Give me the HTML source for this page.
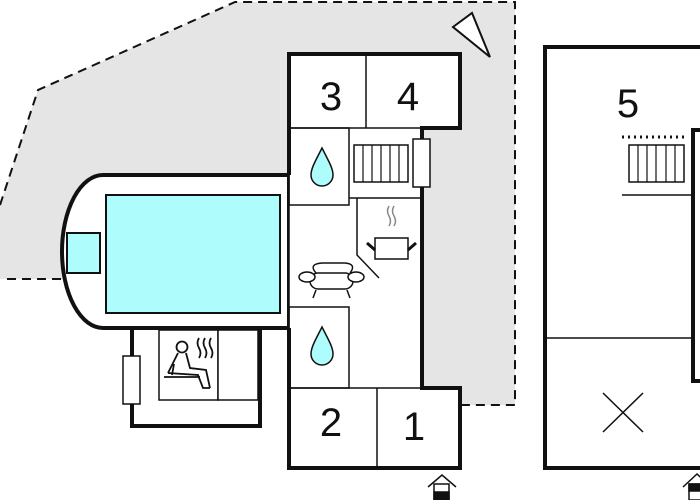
<!DOCTYPE html>
<html><head><meta charset="utf-8"><style>
html,body{margin:0;padding:0;background:#fff;width:700px;height:500px;overflow:hidden}
text{font-family:"Liberation Sans",sans-serif;font-size:40px;fill:#111}
</style></head><body>
<svg width="700" height="500" viewBox="0 0 700 500" xmlns="http://www.w3.org/2000/svg">
<polygon points="235,2 515,2 515,405 290,405 290,279 0,279 0,205 38,90" fill="#e5e5e5"/>
<polyline points="0,205 38,90 235,2 515,2 515,405 460,405" fill="none" stroke="#111" stroke-width="2" stroke-dasharray="9,6"/>
<line x1="7" y1="279" x2="62" y2="279" stroke="#111" stroke-width="2" stroke-dasharray="9,6"/>
<polygon points="453,27 472,13 490,57" fill="#fff" stroke="#111" stroke-width="2"/>

<path d="M289,175 L103,175 A41,76.5 0 0 0 103,328 L289,328 Z" fill="#fff" stroke="#111" stroke-width="4"/>
<rect x="106" y="195" width="174" height="118" fill="#aefcfc" stroke="#111" stroke-width="2"/>
<rect x="67" y="233" width="33" height="40" fill="#aefcfc" stroke="#111" stroke-width="2"/>

<rect x="132" y="328" width="128" height="98" fill="#fff" stroke="#111" stroke-width="4"/>
<rect x="159" y="330" width="59" height="70" fill="#fff" stroke="#111" stroke-width="1.5"/>
<rect x="218" y="330" width="40" height="70" fill="#fff" stroke="#111" stroke-width="1.5"/>
<rect x="123" y="356" width="17" height="48" fill="#fff" stroke="#111" stroke-width="1.5"/>
<g fill="none" stroke="#111" stroke-width="1.8">
<circle cx="182" cy="347" r="5.5"/>
<path d="M178,353 L168,373 M186,353 L190,368 L206,370 L210,388 M168,373 L198,375 L203,388 L210,388 M174,364 L172,375 M164,377 L200,377"/>
<path d="M199,338 q-3,5 0,10 t0,10 M205,338 q-3,5 0,10 t0,10 M211,338 q-3,5 0,10 t0,10"/>
</g>

<rect x="289" y="128" width="133" height="260" fill="#fff" stroke="none"/>
<path d="M289,175 L289,54 L460,54 L460,128 L422,128 L422,388 L460,388 L460,468 L289,468 L289,328" fill="#fff" stroke="#111" stroke-width="4"/>
<line x1="289" y1="175" x2="289" y2="328" stroke="#111" stroke-width="1.5"/>
<line x1="366" y1="54" x2="366" y2="128" stroke="#111" stroke-width="1.5"/>
<line x1="289" y1="128" x2="422" y2="128" stroke="#111" stroke-width="1.5"/>
<rect x="289" y="128" width="60" height="77" fill="none" stroke="#111" stroke-width="1.5"/>
<line x1="349" y1="198" x2="422" y2="198" stroke="#111" stroke-width="1.5"/>
<rect x="354" y="145" width="54" height="37" fill="#fff" stroke="#111" stroke-width="1.5"/>
<path d="M363,145v37M372,145v37M381,145v37M390,145v37M399,145v37" stroke="#111" stroke-width="1.2"/>
<rect x="413" y="139" width="17" height="48" fill="#fff" stroke="#111" stroke-width="1.5"/>
<polyline points="357,198 357,255 379,278" fill="none" stroke="#111" stroke-width="1.5"/>
<rect x="289" y="307" width="60" height="81" fill="none" stroke="#111" stroke-width="1.5"/>
<line x1="289" y1="388" x2="460" y2="388" stroke="#111" stroke-width="1.5"/>
<line x1="377" y1="388" x2="377" y2="468" stroke="#111" stroke-width="1.5"/>
<path d="M322,148 C316,160 311,168 311,175 A11,11 0 0 0 333,175 C333,168 328,160 322,148 Z" fill="#aefcfc" stroke="#111" stroke-width="1.5"/>
<path d="M322,327 C316,339 311,347 311,354 A11,11 0 0 0 333,354 C333,347 328,339 322,327 Z" fill="#aefcfc" stroke="#111" stroke-width="1.5"/>
<g stroke="#111" stroke-width="1.5" fill="#fff">
<rect x="375" y="238" width="33" height="21"/>
<path d="M367,243 L375,250 M416,243 L408,250" stroke-width="3"/>
</g>
<path d="M389,206 q-3,5 0,10 t0,10 M394,206 q-3,5 0,10 t0,10" fill="none" stroke="#888" stroke-width="1.5"/>
<g fill="#fff" stroke="#111" stroke-width="1.5">
<path d="M316,273 Q308,264 322,263 L345,263 Q357,264 350,273"/>
<rect x="310" y="273" width="43" height="16" rx="8"/>
<ellipse cx="307" cy="277" rx="8" ry="5"/>
<ellipse cx="356" cy="277" rx="8" ry="5"/>
<path d="M316,290 L313,298 M347,290 L350,298" fill="none"/>
</g>
<text x="331" y="110" text-anchor="middle">3</text>
<text x="408" y="110" text-anchor="middle">4</text>
<text x="331" y="436" text-anchor="middle">2</text>
<text x="414" y="440" text-anchor="middle">1</text>

<g stroke="#111" stroke-width="1.5" fill="#fff">
<polyline points="428,487 442,475 456,487"/>
<rect x="434" y="484" width="15" height="16"/>
<rect x="434" y="492" width="15" height="8" fill="#111"/>
</g>

<path d="M700,47 L545,47 L545,468 L700,468" fill="#fff" stroke="#111" stroke-width="4"/>
<path d="M700,130 L693,130 L693,381 L700,381" fill="none" stroke="#111" stroke-width="4"/>
<line x1="545" y1="338" x2="693" y2="338" stroke="#111" stroke-width="1.5"/>
<line x1="622" y1="195" x2="693" y2="195" stroke="#111" stroke-width="1.5"/>
<line x1="622" y1="137" x2="686" y2="137" stroke="#111" stroke-width="3" stroke-dasharray="2,4"/>
<rect x="629" y="145" width="55" height="37" fill="#fff" stroke="#111" stroke-width="1.5"/>
<path d="M638,145v37M647,145v37M656,145v37M666,145v37M675,145v37" stroke="#111" stroke-width="1.2"/>
<text x="628" y="117" text-anchor="middle">5</text>
<path d="M603,393 L643,432 M643,393 L603,432" stroke="#111" stroke-width="1.5"/>
<g stroke="#111" stroke-width="1.5" fill="#fff">
<polyline points="683,487 697,474 711,487"/>
<rect x="689" y="484" width="15" height="16"/>
<rect x="689" y="484" width="15" height="7" fill="#111"/>
</g>
</svg>
</body></html>
